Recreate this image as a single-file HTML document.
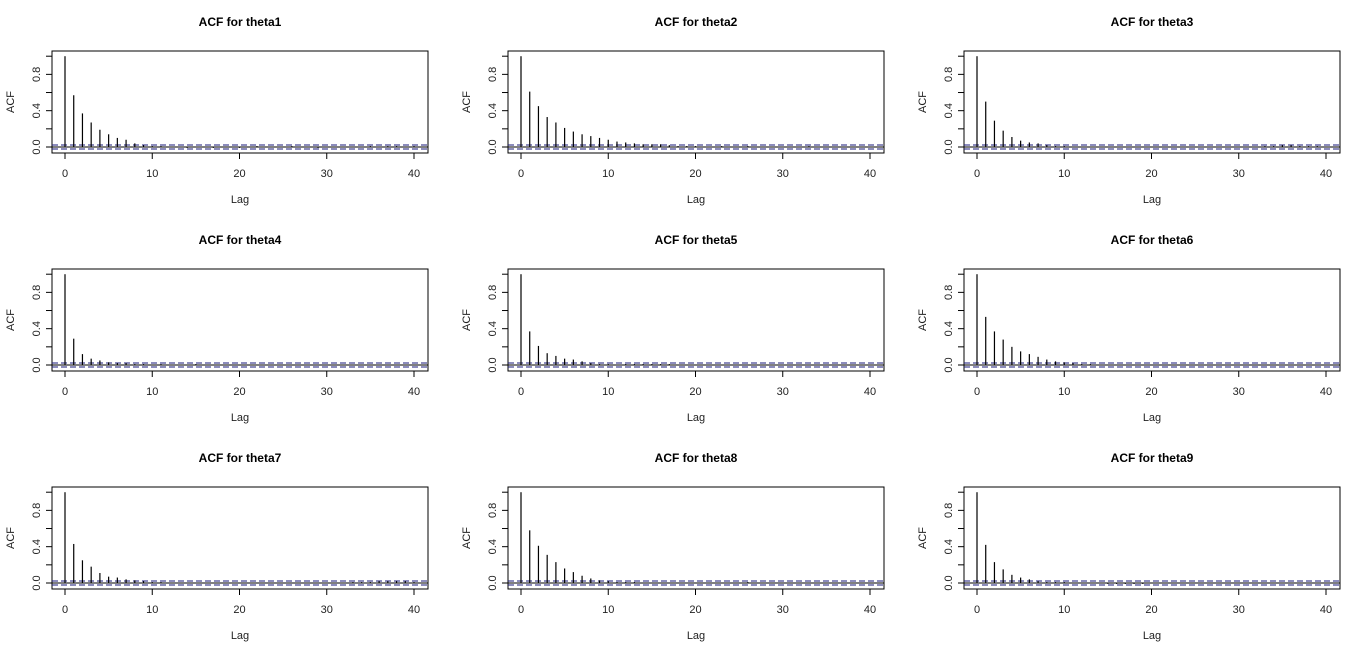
<!DOCTYPE html>
<html><head><meta charset="utf-8"><style>
html,body{margin:0;padding:0;background:#fff;}
svg{display:block;font-family:"Liberation Sans",Arial,sans-serif;}
</style></head><body>
<svg id="chart" width="1366" height="653" viewBox="0 0 1366 653" xmlns="http://www.w3.org/2000/svg"></svg>
<script>
const titles = ["ACF for theta1","ACF for theta2","ACF for theta3","ACF for theta4","ACF for theta5","ACF for theta6","ACF for theta7","ACF for theta8","ACF for theta9"];
const xTicks = [0,10,20,30,40];
const yTicks = [0.0,0.4,0.8];
const yTickLabels = ["0.0","0.4","0.8"];
const ciBound = 0.022;
const acf1 = [1,0.57,0.37,0.27,0.19,0.14,0.10,0.08,0.04,0.02,0.01,0.01,0.00,0.00,-0.01,0.00,0.00,-0.01,0.00,0.00,-0.01,0.00,0.01,0.00,0.00,0.00,0.01,0.00,0.00,-0.01,0.00,0.00,0.00,0.00,0.00,0.01,0.00,0.01,0.01,0.00,0.01];
const acf2 = [1,0.61,0.45,0.33,0.27,0.21,0.17,0.14,0.12,0.10,0.08,0.06,0.05,0.04,0.03,0.03,0.03,0.02,0.01,0.01,0.01,0.00,0.00,0.01,0.00,0.00,0.01,0.00,0.00,0.00,0.00,0.00,0.00,0.01,0.00,0.00,0.00,0.00,0.00,0.00,0.00];
const acf3 = [1,0.50,0.29,0.18,0.11,0.07,0.05,0.04,0.02,0.01,0.01,0.00,0.00,0.00,0.00,0.00,0.00,0.00,0.00,0.00,0.00,0.00,0.00,0.00,0.00,0.00,0.00,0.00,0.00,0.00,0.00,0.00,0.00,0.01,0.01,0.02,0.02,0.01,0.01,0.01,0.00];
const acf4 = [1,0.29,0.12,0.07,0.05,0.03,0.02,0.02,0.01,0.01,0.00,0.01,0.00,0.00,0.00,0.01,0.00,0.00,0.00,0.00,0.00,0.00,0.00,0.00,0.00,0.00,0.00,0.00,0.00,0.00,0.00,0.00,0.00,0.00,0.00,0.00,0.00,0.00,0.00,0.00,0.00];
const acf5 = [1,0.37,0.21,0.13,0.10,0.07,0.06,0.04,0.02,0.01,0.01,0.00,0.01,0.01,0.01,0.01,0.01,0.01,0.00,0.00,0.00,0.00,0.00,0.00,0.00,0.00,0.00,0.00,0.00,0.00,0.00,0.00,0.00,0.00,0.00,0.00,0.00,0.00,0.00,0.00,0.00];
const acf6 = [1,0.53,0.37,0.28,0.20,0.15,0.12,0.09,0.06,0.04,0.03,0.02,0.01,0.01,0.00,0.00,0.00,0.00,0.00,0.00,0.00,0.00,0.00,0.00,0.00,0.00,0.00,0.00,0.00,0.00,0.00,0.00,0.00,0.00,0.00,0.00,0.00,0.00,0.00,0.00,0.00];
const acf7 = [1,0.43,0.25,0.18,0.11,0.07,0.06,0.04,0.03,0.02,0.01,0.01,0.00,0.00,0.00,0.00,0.00,0.00,0.00,0.00,0.00,0.00,0.00,0.00,0.00,0.00,0.00,0.00,0.00,0.00,0.00,0.00,0.00,0.01,0.01,0.01,0.02,0.02,0.02,0.02,0.01];
const acf8 = [1,0.58,0.41,0.31,0.23,0.16,0.12,0.08,0.05,0.03,0.02,0.01,0.01,0.01,0.00,0.00,0.00,0.00,0.00,0.00,0.00,0.00,0.00,0.00,0.00,0.00,0.01,0.00,0.00,0.00,0.00,0.00,0.00,0.00,0.00,0.00,0.00,0.00,0.00,0.00,0.00];
const acf9 = [1,0.42,0.23,0.15,0.09,0.06,0.04,0.02,0.01,0.01,0.01,0.00,0.00,0.00,0.00,-0.01,-0.01,-0.01,-0.01,-0.01,0.00,0.00,0.00,0.00,0.00,0.00,0.00,0.00,0.00,0.00,0.00,0.00,0.00,0.00,0.00,0.00,0.00,0.00,0.00,0.00,0.00];
const series = [acf1,acf2,acf3,acf4,acf5,acf6,acf7,acf8,acf9];

const NS="http://www.w3.org/2000/svg";
const svg=document.getElementById('chart');
function mk(tag,attrs,parent){const e=document.createElementNS(NS,tag);for(const k in attrs)e.setAttribute(k,attrs[k]);parent.appendChild(e);return e;}

series.forEach((vals,i)=>{
  const col=i%3,row=Math.floor(i/3);
  const ox=col*456, oy=row*218;
  const g=mk('g',{},svg);
  
  
  const L=52+ox,R=428+ox,T=51+oy,B=153+oy;
  const xs=l=>65+ox+l*8.725;
  const ys=v=>147+oy-v*90.8;
  const t=mk('text',{x:(L+R)/2,y:26+oy,'text-anchor':'middle','font-size':12,'font-weight':'bold'},g);
  t.textContent=titles[i];
  
  
  const box=mk('rect',{x:L,y:T,width:R-L,height:B-T,fill:'none',stroke:'#000','stroke-width':1},g);
  
  
  xTicks.forEach(v=>{
    mk('line',{x1:xs(v),x2:xs(v),y1:B,y2:B+6,stroke:'#000'},g);
    const tx=mk('text',{x:xs(v),y:B+24,'text-anchor':'middle','font-size':11,fill:'#222'},g);
    tx.textContent=v;
    
    
  });
  yTicks.forEach((v,k)=>{
    mk('line',{x1:L,x2:L-6,y1:ys(v),y2:ys(v),stroke:'#000'},g);
    const ty=mk('text',{x:0,y:0,'text-anchor':'middle','font-size':11,fill:'#222',transform:`translate(${L-12},${ys(v)}) rotate(-90)`},g);
    ty.textContent=yTickLabels[k];
    
    
  });
  mk('line',{x1:L,x2:L-6,y1:ys(0.2),y2:ys(0.2),stroke:'#000'},g);
  mk('line',{x1:L,x2:L-6,y1:ys(0.6),y2:ys(0.6),stroke:'#000'},g);
  mk('line',{x1:L,x2:L-6,y1:ys(1.0),y2:ys(1.0),stroke:'#000'},g);
  const xl=mk('text',{x:(L+R)/2,y:B+50,'text-anchor':'middle','font-size':11,fill:'#222'},g);
  xl.textContent='Lag';
  
  
  const yl=mk('text',{x:0,y:0,'text-anchor':'middle','font-size':11,fill:'#222',transform:`translate(${14+ox},${(T+B)/2}) rotate(-90)`},g);
  yl.textContent='ACF';
  
  
  mk('line',{x1:L,x2:R,y1:ys(0),y2:ys(0),stroke:'#000'},g);
  [ciBound,-ciBound].forEach(c=>{
    const d=mk('line',{x1:L,x2:R,y1:ys(c),y2:ys(c),stroke:'#1a1a7a','stroke-dasharray':'6 3'},g);
    
    
  });
  vals.forEach((v,l)=>{
    const b=mk('line',{x1:xs(l),x2:xs(l),y1:ys(0),y2:ys(v),stroke:'#000','stroke-width':1.2},g);
    
    
  });
});
</script>
</body></html>
